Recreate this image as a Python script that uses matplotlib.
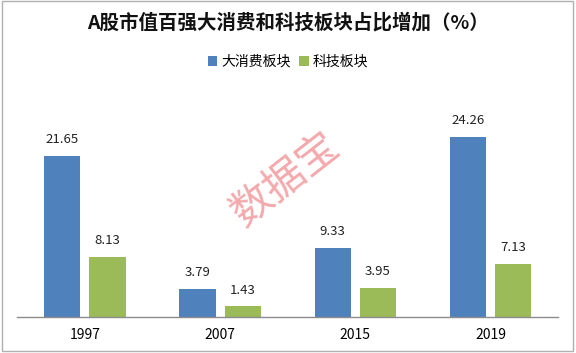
import matplotlib
matplotlib.use("Agg")
import matplotlib.pyplot as plt
import numpy as np
from matplotlib.patches import Rectangle

plt.rcParams['font.family'] = ['Noto Sans CJK SC', 'DejaVu Sans']

years = ['1997', '2007', '2015', '2019']
consumer = [21.65, 3.79, 9.33, 24.26]
tech = [8.13, 1.43, 3.95, 7.13]

blue = '#4F81BD'
green = '#9BBB59'

fig = plt.figure(figsize=(5.76, 3.53), dpi=100)
ax = fig.add_axes([0.03, 0.102, 0.939, 0.60])

x = np.arange(len(years))
w = 0.267
off = 0.167
b1 = ax.bar(x - off, consumer, w, color=blue, label='大消费板块')
b2 = ax.bar(x + off, tech, w, color=green, label='科技板块')

for bars, vals in ((b1, consumer), (b2, tech)):
    for r, v in zip(bars, vals):
        ax.text(r.get_x() + r.get_width() / 2, v + 1.3, f'{v:.2f}',
                ha='center', va='bottom', fontsize=9.5, color='#222222')

ax.set_xlim(-0.5, 3.5)
ax.set_ylim(0, 28.5)
ax.set_xticks(x)
ax.set_xticklabels(years, fontsize=10)
ax.tick_params(axis='x', length=0, pad=8)
ax.set_yticks([])
for s in ['top', 'right', 'left']:
    ax.spines[s].set_visible(False)
ax.spines['bottom'].set_color('#8c8c8c')
ax.spines['bottom'].set_linewidth(1.0)

fig.text(0.5, 0.935, 'A股市值百强大消费和科技板块占比增加（%）', ha='center', va='center',
         fontsize=14, fontweight='bold', color='#111111')

fig.legend(handles=[b1, b2], loc='center', bbox_to_anchor=(0.5, 0.825), ncol=2,
           frameon=False, fontsize=10, handlelength=0.7, handleheight=0.7,
           handletextpad=0.3, columnspacing=0.6)

# watermark
fig.text(0.495, 0.49, '数据宝', ha='center', va='center', rotation=38,
         fontsize=30, color='#F29A9E', alpha=0.85)

# outer frame
fig.patches.append(Rectangle((0.004, 0.006), 0.99, 0.99, transform=fig.transFigure,
                             fill=False, edgecolor='#b0b0b0', linewidth=1.0))

fig.savefig('out.png', dpi=100)
